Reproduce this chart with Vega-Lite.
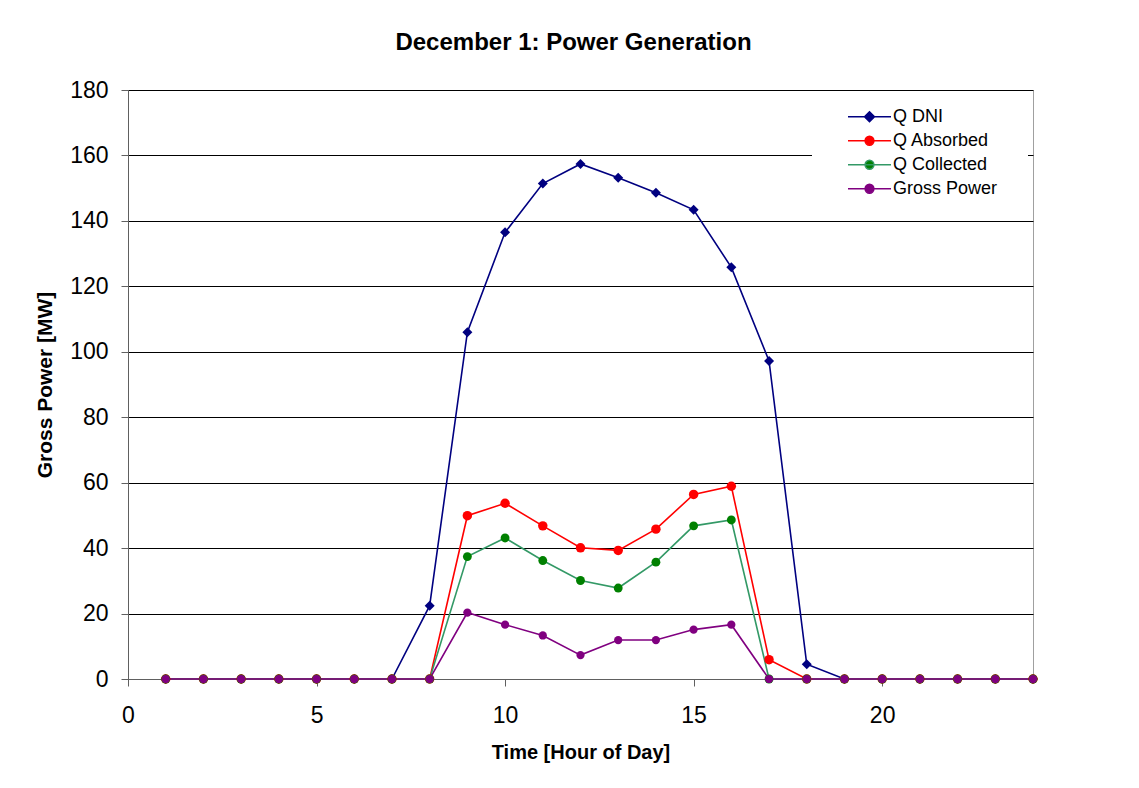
{
  "$schema": "https://vega.github.io/schema/vega-lite/v6.json",
  "width": 905,
  "height": 589,
  "autosize": {"type": "none"},
  "padding": {"left": 128, "top": 90, "right": 106, "bottom": 109},
  "background": "white",
  "title": {"text": "December 1: Power Generation", "font": "Liberation Sans", "fontSize": 24, "fontWeight": "bold", "color": "#000000", "baseline": "alphabetic", "offset": 5, "dx": -7, "anchor": "middle"},
  "config": {
    "view": {"stroke": "#a0a0a0", "strokeWidth": 1},
    "axis": {"labelFont": "Liberation Sans", "labelFontSize": 23, "labelColor": "#000000", "titleFont": "Liberation Sans", "titleFontWeight": "bold", "titleColor": "#000000", "domainColor": "#606060", "tickColor": "#606060", "tickSize": 7, "domainWidth": 1, "tickWidth": 1, "labelFlush": false},
    "legend": {
      "orient": "none", "legendX": 684, "legendY": 9, "fillColor": "white", "padding": 6,
      "labelFont": "Liberation Sans", "labelFontSize": 18, "labelColor": "#000000", "labelOffset": -7,
      "symbolSize": 6400, "clipHeight": 23.5, "rowPadding": 0
    }
  },
  "data": {"values": [
    {"hour": 1, "series": "Q DNI", "value": 0}, {"hour": 2, "series": "Q DNI", "value": 0}, {"hour": 3, "series": "Q DNI", "value": 0}, {"hour": 4, "series": "Q DNI", "value": 0}, {"hour": 5, "series": "Q DNI", "value": 0}, {"hour": 6, "series": "Q DNI", "value": 0}, {"hour": 7, "series": "Q DNI", "value": 0}, {"hour": 8, "series": "Q DNI", "value": 22.4}, {"hour": 9, "series": "Q DNI", "value": 106}, {"hour": 10, "series": "Q DNI", "value": 136.5}, {"hour": 11, "series": "Q DNI", "value": 151.4}, {"hour": 12, "series": "Q DNI", "value": 157.4}, {"hour": 13, "series": "Q DNI", "value": 153.2}, {"hour": 14, "series": "Q DNI", "value": 148.6}, {"hour": 15, "series": "Q DNI", "value": 143.4}, {"hour": 16, "series": "Q DNI", "value": 125.8}, {"hour": 17, "series": "Q DNI", "value": 97.2}, {"hour": 18, "series": "Q DNI", "value": 4.5}, {"hour": 19, "series": "Q DNI", "value": 0}, {"hour": 20, "series": "Q DNI", "value": 0}, {"hour": 21, "series": "Q DNI", "value": 0}, {"hour": 22, "series": "Q DNI", "value": 0}, {"hour": 23, "series": "Q DNI", "value": 0}, {"hour": 24, "series": "Q DNI", "value": 0},
    {"hour": 1, "series": "Q Absorbed", "value": 0}, {"hour": 2, "series": "Q Absorbed", "value": 0}, {"hour": 3, "series": "Q Absorbed", "value": 0}, {"hour": 4, "series": "Q Absorbed", "value": 0}, {"hour": 5, "series": "Q Absorbed", "value": 0}, {"hour": 6, "series": "Q Absorbed", "value": 0}, {"hour": 7, "series": "Q Absorbed", "value": 0}, {"hour": 8, "series": "Q Absorbed", "value": 0}, {"hour": 9, "series": "Q Absorbed", "value": 49.9}, {"hour": 10, "series": "Q Absorbed", "value": 53.7}, {"hour": 11, "series": "Q Absorbed", "value": 46.8}, {"hour": 12, "series": "Q Absorbed", "value": 40.1}, {"hour": 13, "series": "Q Absorbed", "value": 39.3}, {"hour": 14, "series": "Q Absorbed", "value": 45.8}, {"hour": 15, "series": "Q Absorbed", "value": 56.4}, {"hour": 16, "series": "Q Absorbed", "value": 58.9}, {"hour": 17, "series": "Q Absorbed", "value": 5.9}, {"hour": 18, "series": "Q Absorbed", "value": 0}, {"hour": 19, "series": "Q Absorbed", "value": 0}, {"hour": 20, "series": "Q Absorbed", "value": 0}, {"hour": 21, "series": "Q Absorbed", "value": 0}, {"hour": 22, "series": "Q Absorbed", "value": 0}, {"hour": 23, "series": "Q Absorbed", "value": 0}, {"hour": 24, "series": "Q Absorbed", "value": 0},
    {"hour": 1, "series": "Q Collected", "value": 0}, {"hour": 2, "series": "Q Collected", "value": 0}, {"hour": 3, "series": "Q Collected", "value": 0}, {"hour": 4, "series": "Q Collected", "value": 0}, {"hour": 5, "series": "Q Collected", "value": 0}, {"hour": 6, "series": "Q Collected", "value": 0}, {"hour": 7, "series": "Q Collected", "value": 0}, {"hour": 8, "series": "Q Collected", "value": 0}, {"hour": 9, "series": "Q Collected", "value": 37.4}, {"hour": 10, "series": "Q Collected", "value": 43.1}, {"hour": 11, "series": "Q Collected", "value": 36.2}, {"hour": 12, "series": "Q Collected", "value": 30.1}, {"hour": 13, "series": "Q Collected", "value": 27.8}, {"hour": 14, "series": "Q Collected", "value": 35.7}, {"hour": 15, "series": "Q Collected", "value": 46.8}, {"hour": 16, "series": "Q Collected", "value": 48.6}, {"hour": 17, "series": "Q Collected", "value": 0}, {"hour": 18, "series": "Q Collected", "value": 0}, {"hour": 19, "series": "Q Collected", "value": 0}, {"hour": 20, "series": "Q Collected", "value": 0}, {"hour": 21, "series": "Q Collected", "value": 0}, {"hour": 22, "series": "Q Collected", "value": 0}, {"hour": 23, "series": "Q Collected", "value": 0}, {"hour": 24, "series": "Q Collected", "value": 0},
    {"hour": 1, "series": "Gross Power", "value": 0}, {"hour": 2, "series": "Gross Power", "value": 0}, {"hour": 3, "series": "Gross Power", "value": 0}, {"hour": 4, "series": "Gross Power", "value": 0}, {"hour": 5, "series": "Gross Power", "value": 0}, {"hour": 6, "series": "Gross Power", "value": 0}, {"hour": 7, "series": "Gross Power", "value": 0}, {"hour": 8, "series": "Gross Power", "value": 0}, {"hour": 9, "series": "Gross Power", "value": 20.3}, {"hour": 10, "series": "Gross Power", "value": 16.6}, {"hour": 11, "series": "Gross Power", "value": 13.3}, {"hour": 12, "series": "Gross Power", "value": 7.3}, {"hour": 13, "series": "Gross Power", "value": 11.9}, {"hour": 14, "series": "Gross Power", "value": 11.9}, {"hour": 15, "series": "Gross Power", "value": 15.1}, {"hour": 16, "series": "Gross Power", "value": 16.6}, {"hour": 17, "series": "Gross Power", "value": 0}, {"hour": 18, "series": "Gross Power", "value": 0}, {"hour": 19, "series": "Gross Power", "value": 0}, {"hour": 20, "series": "Gross Power", "value": 0}, {"hour": 21, "series": "Gross Power", "value": 0}, {"hour": 22, "series": "Gross Power", "value": 0}, {"hour": 23, "series": "Gross Power", "value": 0}, {"hour": 24, "series": "Gross Power", "value": 0}
  ]},
  "encoding": {
    "x": {"field": "hour", "type": "quantitative", "scale": {"domain": [0, 24], "nice": false, "zero": false},
          "axis": {"values": [0, 5, 10, 15, 20], "grid": false, "title": "Time [Hour of Day]", "titleFontSize": 20, "labelPadding": 18, "titleBaseline": "alphabetic", "titleY": 79}},
    "y": {"field": "value", "type": "quantitative", "scale": {"domain": [0, 180], "nice": false},
          "axis": {"values": [0, 20, 40, 60, 80, 100, 120, 140, 160, 180], "grid": true, "gridColor": "#000000", "gridWidth": 1, "title": "Gross Power [MW]", "titleFontSize": 21, "labelPadding": 13, "titleBaseline": "alphabetic", "titleX": -77}}
  },
  "layer": [
    {
      "mark": {"type": "line", "strokeWidth": 1.6},
      "encoding": {
        "color": {"field": "series", "type": "nominal", "scale": {"domain": ["Q DNI", "Q Absorbed", "Q Collected", "Gross Power"], "range": ["#000080", "#FF0000", "#339966", "#800080"]}, "legend": null}
      }
    },
    {
      "mark": {"type": "point", "filled": true, "opacity": 1},
      "encoding": {
        "color": {"field": "series", "type": "nominal", "scale": {"domain": ["Q DNI", "Q Absorbed", "Q Collected", "Gross Power"], "range": ["#000080", "#FF0000", "#008000", "#800080"]},
          "legend": {
            "title": "\u00a0",
            "titleOrient": "right",
            "titleFontSize": 10,
            "titlePadding": 25,
            "symbolType": {"expr": "datum.value === 'Q DNI' ? 'M-0.275,0L0.8,0M0.1375,0L0.2625,-0.125L0.3875,0L0.2625,0.125Z' : 'M-0.275,0L0.8,0M0.1525,0A0.11,0.11,0,1,0,0.3725,0A0.11,0.11,0,1,0,0.1525,0Z'"},
            "symbolStrokeColor": {"expr": "datum.value === 'Q DNI' ? '#000080' : datum.value === 'Q Absorbed' ? '#FF0000' : datum.value === 'Q Collected' ? '#339966' : '#800080'"},
            "symbolFillColor": {"expr": "datum.value === 'Q DNI' ? '#000080' : datum.value === 'Q Absorbed' ? '#FF0000' : datum.value === 'Q Collected' ? '#008000' : '#800080'"},
            "symbolStrokeWidth": 1.5,
            "symbolOpacity": 1
          }},
        "shape": {"field": "series", "type": "nominal", "scale": {"domain": ["Q DNI", "Q Absorbed", "Q Collected", "Gross Power"], "range": ["diamond", "circle", "circle", "circle"]}, "legend": null},
        "size": {"field": "series", "type": "nominal", "scale": {"domain": ["Q DNI", "Q Absorbed", "Q Collected", "Gross Power"], "range": [100, 68, 68, 68]}, "legend": null}
      }
    }
  ],
  "resolve": {"scale": {"color": "independent"}}
}
